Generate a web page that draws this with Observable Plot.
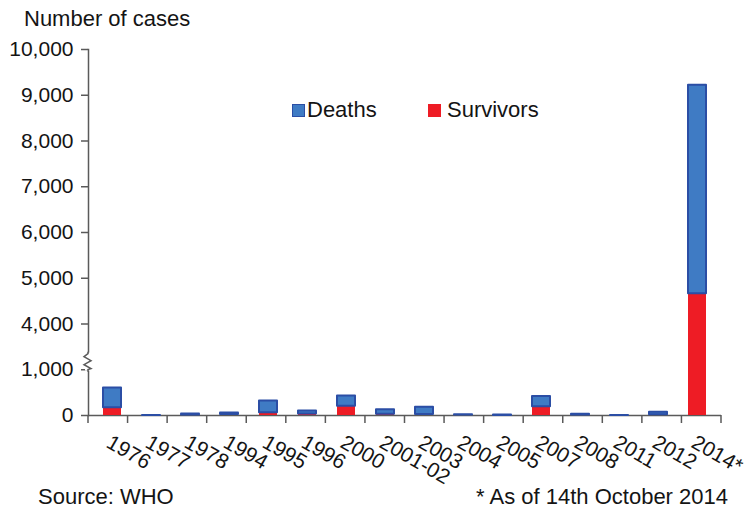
<!DOCTYPE html>
<html>
<head>
<meta charset="utf-8">
<script src="https://cdn.jsdelivr.net/npm/d3@7"></script>
<script src="https://cdn.jsdelivr.net/npm/@observablehq/plot@0.6"></script>
<style>
  html, body { margin: 0; padding: 0; background: #fff; }
  body { font-family: "Liberation Sans", Arial, sans-serif; color: #141414; }
  #wrap { position: relative; width: 754px; height: 510px; overflow: hidden; }
  #title { position: relative; height: 34px; }
  #title span { position: absolute; left: 24px; top: 8px; font-size: 22px; line-height: 22px; white-space: nowrap; }
  #foot { position: relative; height: 30px; }
  #foot span { position: absolute; top: 5px; font-size: 22px; line-height: 24px; white-space: nowrap; }
  .leg { position: absolute; font-size: 22px; line-height: 22px; white-space: nowrap; }
  .sq { position: absolute; width: 13px; height: 13px; box-sizing: border-box; }
  svg { display: block; }
</style>
</head>
<body>
<div id="wrap">
  <div id="title"><span>Number of cases</span></div>
  <div id="chart"></div>
  <div id="foot"><span style="left:38px">Source: WHO</span><span style="right:26px">* As of 14th October 2014</span></div>
  <div class="sq" style="left:292px; top:104px; background:#3f7bc4; border:1.5px solid #2b4ea5"></div>
  <div class="leg" style="left:307px; top:99px">Deaths</div>
  <div class="sq" style="left:428px; top:104px; background:#ee1c25"></div>
  <div class="leg" style="left:447px; top:99px">Survivors</div>
</div>
<script>
// ---- data ----
const years = ["1976","1977","1978","1994","1995","1996","2000","2001-02","2003","2004","2005","2007","2008","2011","2012","2014*"];
const deaths =    [431, 1, 22, 31, 254, 67, 224, 97, 157,  7, 10, 224, 14, 1, 55, 4555];
const survivors = [171, 0, 12, 22,  61, 32, 201, 27,  21, 10,  2, 189, 12, 0, 15, 4661];
const yTickValues = [0, 1000, 4000, 5000, 6000, 7000, 8000, 9000, 10000];
const yTickLabels = ["0", "1,000", "4,000", "5,000", "6,000", "7,000", "8,000", "9,000", "10,000"];
const breakLow = 1000, breakHigh = 4000, breakMid = 1500;

// broken-axis transform: 1,000–4,000 compressed into one tick interval
const f = v => v <= breakLow ? v : v >= breakHigh ? v - (breakHigh - breakLow - 1000) : breakLow + (v - breakLow) / 3;

const table = [];
years.forEach((yr, i) => {
  table.push({year: yr, series: "Survivors", y1: f(0), y2: f(survivors[i])});
  table.push({year: yr, series: "Deaths", y1: f(survivors[i]), y2: f(survivors[i] + deaths[i])});
});

const tickMap = new Map(yTickValues.map((v, i) => [f(v), yTickLabels[i]]));
const axisColor = "#5a5a5a";
const blue = "#3f7bc4", blueEdge = "#2b4ea5", red = "#ee1c25";

// x-axis ticks at band boundaries
const bandTicks = (index, scales, values, dim) => {
  const g = document.createElementNS("http://www.w3.org/2000/svg", "g");
  const n = years.length;
  const x0 = dim.marginLeft, x1 = dim.width - dim.marginRight;
  const yb = dim.height - dim.marginBottom;
  for (let i = 0; i <= n; i++) {
    const x = x0 + (x1 - x0) * i / n;
    const l = document.createElementNS("http://www.w3.org/2000/svg", "line");
    l.setAttribute("x1", x); l.setAttribute("x2", x);
    l.setAttribute("y1", yb); l.setAttribute("y2", yb + 8);
    l.setAttribute("stroke", axisColor); l.setAttribute("stroke-width", 1.5);
    g.appendChild(l);
  }
  return g;
};

// y-axis break symbol
const breakSymbol = (index, scales, values, dim) => {
  const g = document.createElementNS("http://www.w3.org/2000/svg", "g");
  const yScale = typeof scales.y === "function" ? scales.y : scales.scales.y.apply;
  const y = yScale(f(breakMid));
  const x = dim.marginLeft;
  const r = document.createElementNS("http://www.w3.org/2000/svg", "rect");
  r.setAttribute("x", x - 3); r.setAttribute("width", 6);
  r.setAttribute("y", y - 9); r.setAttribute("height", 18);
  r.setAttribute("fill", "white");
  g.appendChild(r);
  const p = document.createElementNS("http://www.w3.org/2000/svg", "path");
  p.setAttribute("d", `M${x},${y-10} L${x},${y-8} L${x-4},${y-5} L${x+3},${y-1} L${x-4},${y+3} L${x+3},${y+7} L${x},${y+8} L${x},${y+10}`);
  p.setAttribute("fill", "none"); p.setAttribute("stroke", axisColor); p.setAttribute("stroke-width", 1.5);
  g.appendChild(p);
  return g;
};

const chart = Plot.plot({
  width: 754,
  height: 446,
  marginLeft: 88,
  marginRight: 33,
  marginTop: 15,
  marginBottom: 65,
  style: {fontFamily: "'Liberation Sans', Arial, sans-serif", fontSize: "21px", color: "#141414", background: "white", overflow: "visible"},
  x: {domain: years, paddingInner: 0.55, paddingOuter: 0.275, axis: null},
  y: {domain: [0, f(10000)], axis: null},
  marks: [
    Plot.frame({anchor: "left", stroke: axisColor, strokeWidth: 1.5}),
    Plot.ruleY([0], {stroke: axisColor, strokeWidth: 1.5}),
    Plot.axisY(yTickValues.map(f), {tickSize: 7, tickPadding: 8, tickFormat: d => tickMap.get(d), fontSize: 21, stroke: axisColor, strokeWidth: 1.5, fill: "#141414"}),
    bandTicks,
    breakSymbol,
    Plot.barY(table.filter(d => d.series === "Survivors"), {x: "year", y1: "y1", y2: "y2", fill: red}),
    Plot.barY(table.filter(d => d.series === "Deaths"), {x: "year", y1: "y1", y2: "y2", fill: blue, stroke: blueEdge, strokeWidth: 2, strokeLinejoin: "round"}),
    Plot.text(years, {x: d => d, frameAnchor: "bottom", dy: 18, rotate: 30, textAnchor: "start", lineAnchor: "top", fontSize: 21, fill: "#141414"})
  ]
});
document.getElementById("chart").appendChild(chart);
</script>
</body>
</html>
